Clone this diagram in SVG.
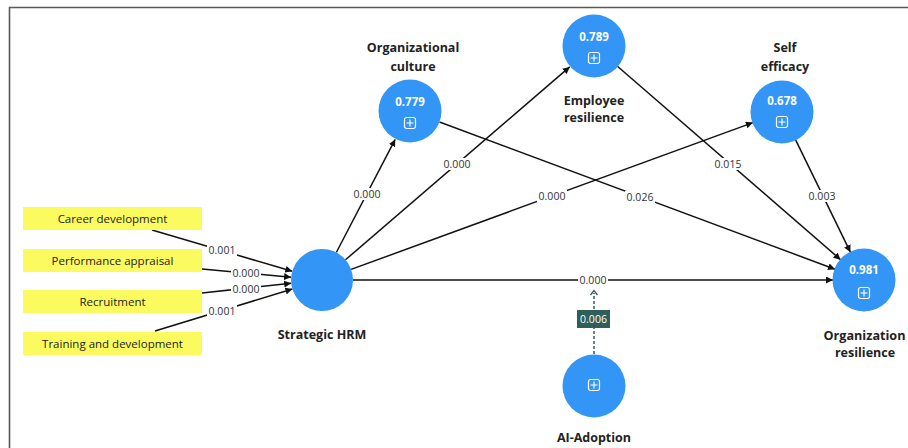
<svg xmlns="http://www.w3.org/2000/svg" width="908" height="448" viewBox="0 0 908 448">
  <style>
    .frame { stroke: #5a5a5a; stroke-width: 1.6; fill: none; }
    .lv { fill: #3395f5; }
    .ind rect { fill: #fbfb5f; }
    .ind text { font-family: "Open Sans", "Noto Sans", sans-serif; font-size: 11.5px; fill: #222; text-anchor: middle; }
    .name { font-family: "Open Sans", "Noto Sans", sans-serif; font-size: 12.5px; font-weight: bold; fill: #222; text-anchor: middle; }
    .r2 { font-family: "Open Sans", "Noto Sans", sans-serif; font-size: 11.5px; font-weight: bold; fill: #fff; text-anchor: middle; }
    .icon { fill: none; stroke: #fff; stroke-width: 1.2; }
    .edge { stroke: #111; stroke-width: 1.5; fill: none; marker-end: url(#arrow); }
    .elbl rect { fill: #fff; }
    .elbl text { font-family: "Open Sans", "Noto Sans", sans-serif; font-size: 10.5px; fill: #333; text-anchor: middle; }
    .mod { stroke: #2f5f58; stroke-width: 1.5; stroke-dasharray: 3 2; fill: none; }
  </style>
  <defs>
    <marker id="arrow" viewBox="0 0 10 10" refX="10" refY="5" markerWidth="7" markerHeight="7" orient="auto" markerUnits="userSpaceOnUse">
      <path d="M0,0 L10,5 L0,10 Z" fill="#111"/>
    </marker>
    <g id="plus">
      <rect x="-5.5" y="-5.5" width="11" height="11" rx="2" class="icon"/>
      <path d="M0,-3.5 V3.5 M-3.5,0 H3.5" class="icon"/>
    </g>
  </defs>

  <rect width="908" height="448" fill="#fff"/>
  <!-- canvas frame -->
  <path d="M9.5,448 V7.5 H908" class="frame"/>

  <!-- connectors -->
  <g id="connectors">
    <line class="edge" x1="152" y1="230" x2="292.3" y2="271.3"/>
    <line class="edge" x1="202" y1="269" x2="291.1" y2="277.2"/>
    <line class="edge" x1="202" y1="293" x2="291.2" y2="283.3"/>
    <line class="edge" x1="155" y1="331" x2="292.4" y2="289.0"/>

    <line class="edge" x1="336.3" y1="252.5" x2="395.2" y2="139.4"/>
    <line class="edge" x1="345.5" y1="259.8" x2="569.7" y2="66.9"/>
    <line class="edge" x1="351.1" y1="269.4" x2="752.9" y2="122.6"/>
    <line class="edge" x1="353" y1="280" x2="833" y2="280"/>
    <line class="edge" x1="439.5" y1="122" x2="835" y2="269.2"/>
    <line class="edge" x1="617.4" y1="66.3" x2="840.6" y2="259.7"/>
    <line class="edge" x1="795.6" y1="139.8" x2="850.4" y2="252.2"/>

    <!-- moderating effect -->
    <line class="mod" x1="594" y1="354" x2="594" y2="293"/>
    <path d="M590.5,295 L594,290.5 L597.5,295" stroke="#2f5f58" stroke-width="1.3" fill="none"/>

    <g class="elbl">
      <rect x="207" y="244" width="30" height="12"/><text x="222" y="254">0.001</text>
      <rect x="231" y="267" width="30" height="12"/><text x="246" y="277">0.000</text>
      <rect x="231" y="283" width="30" height="12"/><text x="246" y="293">0.000</text>
      <rect x="207" y="305" width="30" height="12"/><text x="222" y="315">0.001</text>

      <rect x="352" y="188" width="30" height="12"/><text x="367" y="198">0.000</text>
      <rect x="442" y="158" width="30" height="12"/><text x="457" y="168">0.000</text>
      <rect x="537" y="190" width="30" height="12"/><text x="552" y="200">0.000</text>
      <rect x="578" y="274" width="30" height="12"/><text x="593" y="284">0.000</text>
      <rect x="625" y="191" width="30" height="12"/><text x="640" y="201">0.026</text>
      <rect x="713" y="158" width="30" height="12"/><text x="728" y="168">0.015</text>
      <rect x="807" y="190" width="30" height="12"/><text x="822" y="200">0.003</text>
    </g>
    <rect x="577" y="310" width="33" height="18" fill="#2f5f58"/>
    <text x="593.5" y="323" font-family="Open Sans, Noto Sans, sans-serif" font-size="10.5" fill="#fff" text-anchor="middle">0.006</text>
  </g>

  <!-- indicators -->
  <g id="career-development" class="ind">
    <rect x="23" y="207" width="179" height="23"/>
    <text x="112.5" y="222.5">Career development</text>
  </g>
  <g id="performance-appraisal" class="ind">
    <rect x="23" y="249" width="179" height="23"/>
    <text x="112.5" y="264.5">Performance appraisal</text>
  </g>
  <g id="recruitment" class="ind">
    <rect x="23" y="290" width="179" height="23"/>
    <text x="112.5" y="305.5">Recruitment</text>
  </g>
  <g id="training-and-development" class="ind">
    <rect x="23" y="332" width="179" height="23"/>
    <text x="112.5" y="347.5">Training and development</text>
  </g>

  <!-- latent variables -->
  <g id="strategic-hrm">
    <circle class="lv" cx="322" cy="280" r="31"/>
    <text class="name" x="322" y="339">Strategic HRM</text>
  </g>

  <g id="organizational-culture">
    <circle class="lv" cx="410" cy="111" r="31.5"/>
    <text class="r2" x="410" y="106">0.779</text>
    <use href="#plus" x="410" y="123"/>
    <text class="name" x="413" y="52">Organizational</text>
    <text class="name" x="413" y="71">culture</text>
  </g>

  <g id="employee-resilience">
    <circle class="lv" cx="594" cy="46" r="31.5"/>
    <text class="r2" x="594" y="41">0.789</text>
    <use href="#plus" x="594" y="58"/>
    <text class="name" x="594" y="105">Employee</text>
    <text class="name" x="594" y="122">resilience</text>
  </g>

  <g id="self-efficacy">
    <circle class="lv" cx="782" cy="112" r="31.5"/>
    <text class="r2" x="782" y="105">0.678</text>
    <use href="#plus" x="782" y="122"/>
    <text class="name" x="785" y="52">Self</text>
    <text class="name" x="785" y="71">efficacy</text>
  </g>

  <g id="organization-resilience">
    <circle class="lv" cx="864" cy="280" r="31.5"/>
    <text class="r2" x="864" y="274">0.981</text>
    <use href="#plus" x="864" y="293"/>
    <text class="name" x="864.5" y="340" font-size="11.8" textLength="82" lengthAdjust="spacingAndGlyphs">Organization</text>
    <text class="name" x="865" y="357" font-size="11.8">resilience</text>
  </g>

  <g id="ai-adoption">
    <circle class="lv" cx="594" cy="386" r="31.5"/>
    <use href="#plus" x="594" y="385"/>
    <text class="name" x="594" y="442">AI-Adoption</text>
  </g>
</svg>
